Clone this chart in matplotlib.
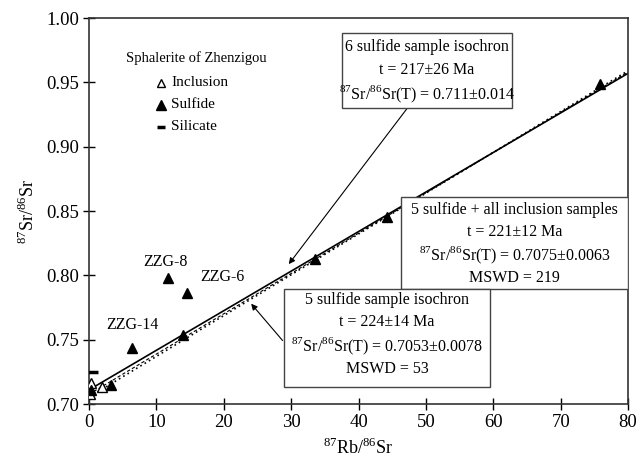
import matplotlib
matplotlib.use("Agg")
import matplotlib.pyplot as plt
from matplotlib.patches import Rectangle

plt.rcParams['font.family'] = ['Liberation Serif', 'DejaVu Serif']
plt.rcParams['mathtext.fontset'] = 'custom'
plt.rcParams['mathtext.rm'] = 'Liberation Serif'

# inclusion samples (open triangles)
incl_x = [0.1, 0.2, 0.3, 1.9]
incl_y = [0.708, 0.712, 0.716, 0.713]

# sulfide samples (filled triangles)
sulf_x = [0.3, 3.3, 6.4, 11.7, 14.6, 14.0, 33.5, 44.3, 75.8]
sulf_y = [0.711, 0.7145, 0.7433, 0.7977, 0.786, 0.7537, 0.8125, 0.845, 0.949]

# silicate sample
sil_x = [0.6]
sil_y = [0.725]

# labelled outliers
outlier_names = ['ZZG-14', 'ZZG-8', 'ZZG-6']
outlier_pos = [(6.5, 0.7614), (11.3, 0.8105), (19.8, 0.7985)]

# isochron end points (x = 0 and x = 80)
iso6_y = [0.711, 0.957]      # 6 sulfide, solid
iso5_y = [0.7053, 0.959]     # 5 sulfide, dotted
iso_all_y = [0.7075, 0.958]  # 5 sulfide + inclusions, dashed
iso_x = [0, 80]

fig = plt.figure(figsize=(6.37, 4.62), dpi=100)
ax = fig.add_axes([0.1397, 0.1255, 0.8462, 0.8355])

ax.plot(iso_x, iso6_y, color='black', lw=1.2, zorder=2)
ax.plot(iso_x, iso_all_y, color='black', lw=0.8, ls=(0, (3, 2)), zorder=2)
ax.plot(iso_x, iso5_y, color='black', lw=1.2, ls=(0, (1, 2)), zorder=2)

ax.plot(incl_x, incl_y, ls='none', marker='^', ms=7, mfc='white', mec='black', mew=1.0, zorder=4)
ax.plot(sulf_x, sulf_y, ls='none', marker='^', ms=7, mfc='black', mec='black', zorder=4)
ax.plot(sil_x, sil_y, ls='none', marker='_', ms=7, mec='black', mew=2.5, zorder=4)

for name, (x, y) in zip(outlier_names, outlier_pos):
    ax.text(x, y, name, ha='center', va='center', fontsize=11.5)

# legend
ax.text(0.068, 0.895, 'Sphalerite of Zhenzigou', transform=ax.transAxes, fontsize=10.5, va='center')
legend_rows = [(0.832, 'Inclusion', dict(marker='^', mfc='white', mec='black', mew=1.0, ms=6)),
               (0.775, 'Sulfide', dict(marker='^', mfc='black', mec='black', ms=7)),
               (0.718, 'Silicate', dict(marker='_', mec='black', mew=2.5, ms=6))]
for ly, label, mk in legend_rows:
    ax.plot([0.134], [ly], transform=ax.transAxes, ls='none', clip_on=False, **mk)
    ax.text(0.152, ly, label, transform=ax.transAxes, fontsize=11, va='center')

sr = '$^{87}$Sr/$^{86}$Sr(T)'
boxes = [
    ((0.469, 0.767), 0.316, 0.194, 0.627,
     [(0.925, '6 sulfide sample isochron'), (0.866, 't = 217\u00b126 Ma'),
      (0.803, sr + ' = 0.711\u00b10.014')]),
    ((0.579, 0.298), 0.421, 0.238, 0.79,
     [(0.502, '5 sulfide + all inclusion samples'), (0.446, 't = 221\u00b112 Ma'),
      (0.386, sr + ' = 0.7075\u00b10.0063'), (0.326, 'MSWD = 219')]),
    ((0.362, 0.044), 0.382, 0.254, 0.553,
     [(0.270, '5 sulfide sample isochron'), (0.212, 't = 224\u00b114 Ma'),
      (0.150, sr + ' = 0.7053\u00b10.0078'), (0.091, 'MSWD = 53')]),
]
for (x0, y0), w, h, cx, lines in boxes:
    ax.add_patch(Rectangle((x0, y0), w, h, transform=ax.transAxes, fc='white',
                           ec='#444444', lw=1.0, zorder=5))
    for ly, txt in lines:
        ax.text(cx, ly, txt, transform=ax.transAxes, ha='center', va='center',
                fontsize=11.5, zorder=6)

ax.annotate('', xy=(29.4, 0.807), xytext=(47.4, 0.931),
            arrowprops=dict(arrowstyle='-|>', color='black', lw=0.8, mutation_scale=9), zorder=3)
ax.annotate('', xy=(23.8, 0.7796), xytext=(29.0, 0.7477),
            arrowprops=dict(arrowstyle='-|>', color='black', lw=0.8, mutation_scale=9), zorder=3)

ax.set_xlim(0, 80)
ax.set_ylim(0.70, 1.00)
ax.set_xticks(range(0, 81, 10))
ax.set_yticks([0.70, 0.75, 0.80, 0.85, 0.90, 0.95, 1.00])
ax.set_yticklabels(['0.70', '0.75', '0.80', '0.85', '0.90', '0.95', '1.00'])
ax.tick_params(direction='inout', length=8, width=1.0, labelsize=13.5, pad=3)
for s in ax.spines.values():
    s.set_linewidth(1.2)
    s.set_color('#333333')

ax.set_xlabel('$^{87}$Rb/$^{86}$Sr', fontsize=13, labelpad=5)
ax.set_ylabel('$^{87}$Sr/$^{86}$Sr', fontsize=13, labelpad=6)

fig.savefig('out.png', dpi=100)
